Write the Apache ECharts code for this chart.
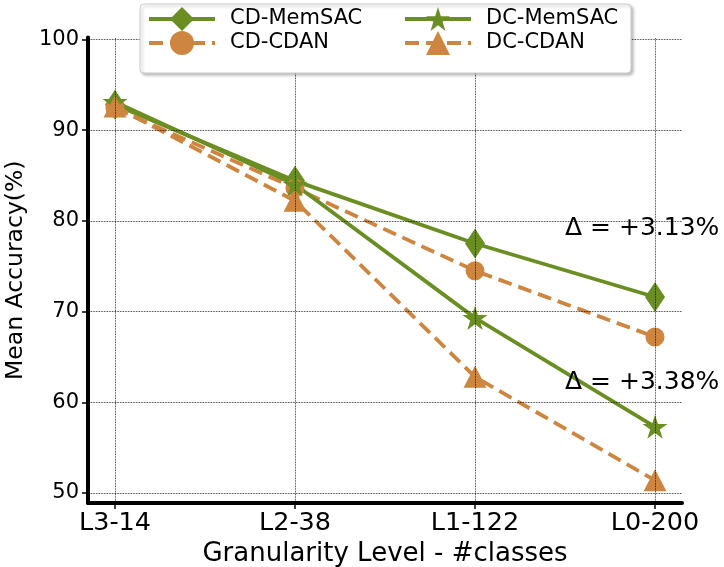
<!DOCTYPE html>
<html>
<head>
<meta charset="utf-8">
<script src="https://cdn.jsdelivr.net/npm/echarts@6/dist/echarts.min.js"></script>
<style>
  html, body { margin: 0; padding: 0; background: #fff; }
  #main { width: 724px; height: 567px; }
</style>
</head>
<body>
<div id="main"></div>
<script>
// categories on the x axis
var levels = ['L3-14', 'L2-38', 'L1-122', 'L0-200'];
var yTicks = [50, 60, 70, 80, 90, 100];

// mean accuracy per level
var cdMemSAC = [92.8, 84.4, 77.5, 71.6];
var cdCDAN = [92.4, 83.6, 74.5, 67.2];
var dcMemSAC = [93.1, 84.0, 69.3, 57.3];
var dcCDAN = [92.6, 82.2, 62.8, 51.4];

var deltaTexts = ['Δ = +3.13%', 'Δ = +3.38%'];

var green = '#6b8e23';
var orange = '#cd853f';
var font = 'DejaVu Sans';
var star = 'path://M0,-100 L22.45,-30.9 L95.1,-30.9 L36.3,11.8 L58.8,80.9 L0,38.2 L-58.8,80.9 L-36.3,11.8 L-95.1,-30.9 L-22.45,-30.9 Z';

function pts(vals) {
  return vals.map(function (v, i) { return [i, v]; });
}

var chart = echarts.init(document.getElementById('main'));

// grid lines drawn through the axes' scales
var gridLines = {
  silent: true,
  symbol: 'none',
  label: { show: false },
  lineStyle: { color: '#000', type: 'dotted', width: 0.8 },
  data: levels.map(function (c, i) { return { xAxis: i }; })
    .concat(yTicks.map(function (v) { return { yAxis: v }; }))
};

function lineSeries(name, vals, color, dashed, symbol, size) {
  return {
    name: name,
    type: 'line',
    data: pts(vals),
    symbol: symbol,
    symbolSize: size,
    showSymbol: true,
    itemStyle: { color: color },
    lineStyle: { color: color, width: 3.8, type: dashed ? [14, 7] : 'solid' },
    emphasis: { disabled: true },
    z: 3
  };
}

var series = [
  lineSeries('CD-MemSAC', cdMemSAC, green, false, 'diamond', [20, 30]),
  lineSeries('CD-CDAN', cdCDAN, orange, true, 'circle', 19),
  lineSeries('DC-MemSAC', dcMemSAC, green, false, star, [25, 24]),
  lineSeries('DC-CDAN', dcCDAN, orange, true, 'triangle', [23, 22])
];
series[0].markLine = gridLines;

var legendBase = {
  orient: 'vertical',
  top: 7,
  itemWidth: 66,
  itemHeight: 30,
  itemGap: 0,
  padding: 0,
  lineStyle: { width: 4 },
  textStyle: { fontFamily: font, fontSize: 21, color: '#000', padding: [0, 0, 0, 10] },
  selectedMode: false,
  z: 20
};

var option = {
  animation: false,
  backgroundColor: '#fff',
  grid: { left: 88, right: 42, top: 37.5, bottom: 64, outerBoundsMode: 'none', containLabel: false },
  xAxis: {
    type: 'value',
    min: -0.15,
    max: 3.15,
    name: 'Granularity Level - #classes',
    nameLocation: 'middle',
    nameGap: 23,
    nameTextStyle: { fontFamily: font, fontSize: 26, color: '#000' },
    axisLine: { show: true, onZero: false, lineStyle: { color: '#000', width: 4 } },
    axisTick: { show: true, customValues: [0, 1, 2, 3], length: 6, lineStyle: { color: '#000', width: 1.5 } },
    axisLabel: {
      customValues: [0, 1, 2, 3],
      margin: 7,
      fontFamily: font, fontSize: 25.5, color: '#000',
      formatter: function (v) { return levels[Math.round(v)]; }
    },
    splitLine: { show: false }
  },
  yAxis: {
    type: 'value',
    min: 48.9,
    max: 100.2,
    name: 'Mean Accuracy(%)',
    nameLocation: 'middle',
    nameGap: 52,
    nameTextStyle: { fontFamily: font, fontSize: 23.5, color: '#000' },
    axisLine: { show: true, onZero: false, lineStyle: { color: '#000', width: 4 } },
    axisTick: { show: true, customValues: yTicks, length: 6, lineStyle: { color: '#000', width: 1.5 } },
    axisLabel: {
      customValues: yTicks,
      margin: 9,
      fontFamily: font, fontSize: 21, color: '#000'
    },
    splitLine: { show: false }
  },
  legend: [
    Object.assign({}, legendBase, { left: 147, data: ['CD-MemSAC', 'CD-CDAN'] }),
    Object.assign({}, legendBase, { left: 403, data: ['DC-MemSAC', 'DC-CDAN'] })
  ],
  graphic: [
    {
      type: 'rect',
      z: 15,
      shape: { x: 140, y: 4, width: 491, height: 69, r: 4 },
      style: {
        fill: '#fff', stroke: '#cccccc', lineWidth: 1,
        shadowBlur: 3, shadowOffsetX: 2, shadowOffsetY: 2, shadowColor: 'rgba(0,0,0,0.25)'
      }
    },
    {
      type: 'text', left: 565, top: 216, z: 10,
      style: { text: deltaTexts[0], fontFamily: font, fontSize: 25, fill: '#000' }
    },
    {
      type: 'text', left: 565, top: 370, z: 10,
      style: { text: deltaTexts[1], fontFamily: font, fontSize: 25, fill: '#000' }
    }
  ],
  series: series
};

chart.setOption(option);
</script>
</body>
</html>
